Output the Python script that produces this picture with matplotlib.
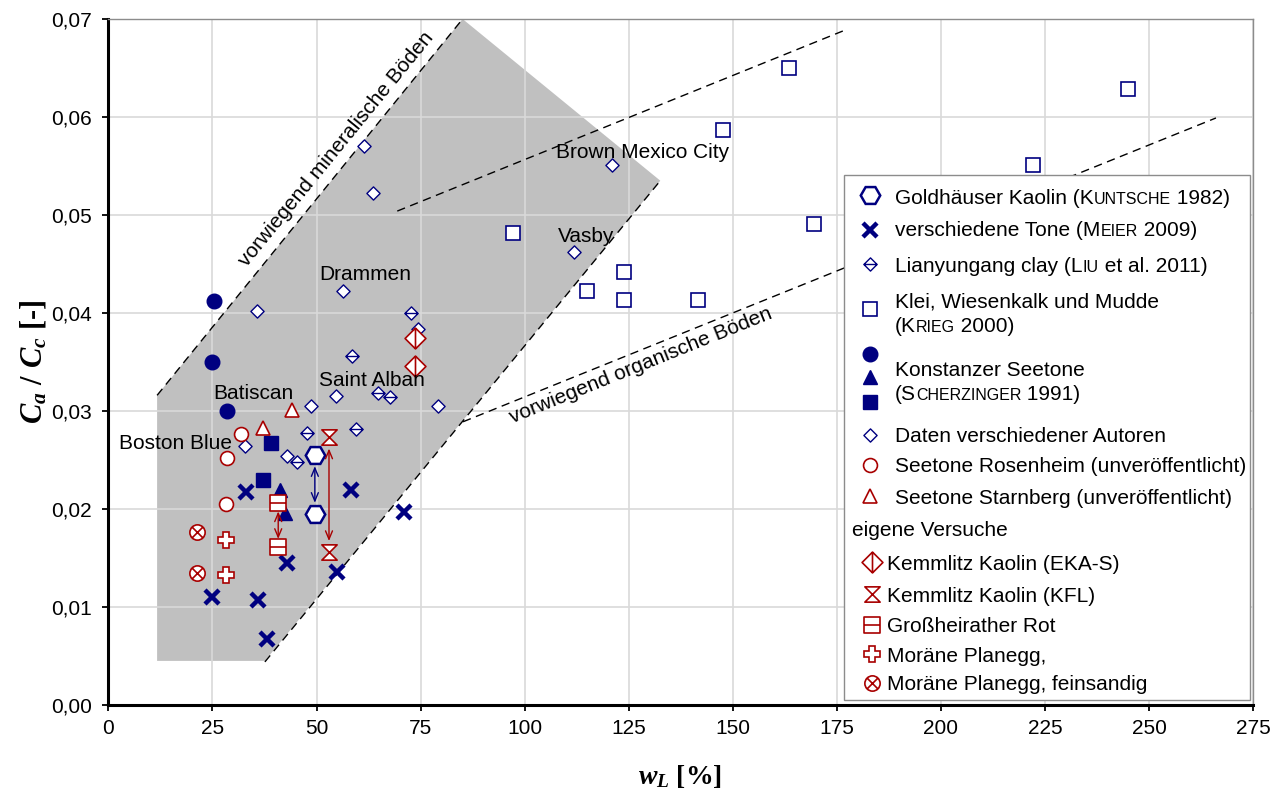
import re

import matplotlib
matplotlib.use("Agg")
import matplotlib.pyplot as plt
from matplotlib.patches import Polygon, Rectangle
from matplotlib.path import Path

plt.rcParams["font.family"] = ["Liberation Sans", "DejaVu Sans"]
plt.rcParams["mathtext.fontset"] = "custom"
plt.rcParams["mathtext.it"] = "Liberation Serif:italic:bold"
plt.rcParams["mathtext.rm"] = "Liberation Serif:bold"
plt.rcParams["mathtext.bf"] = "Liberation Serif:bold"

NAVY = "#000080"
RED = "#a80000"
GREY_AREA = "#c0c0c0"

# --- data: liquid limit w_L [%] and C_a / C_c [-] ---
goldhaeuser_x = [49.6, 49.6]
goldhaeuser_y = [0.0255, 0.0195]
meier_x = [33.0, 58.2, 43.0, 55.0, 25.0, 36.0, 38.2, 71.0]
meier_y = [0.0217, 0.0219, 0.0145, 0.0136, 0.0110, 0.0107, 0.0067, 0.0197]
liu_x = [72.6, 58.6, 64.8, 67.6, 59.6, 47.6, 45.4]
liu_y = [0.0400, 0.0356, 0.0318, 0.0314, 0.0282, 0.0278, 0.0248]
krieg_x = [97.2, 147.6, 123.9, 115.1, 123.9, 141.6, 169.5, 163.5, 244.9, 222.1]
krieg_y = [0.0482, 0.0587, 0.0442, 0.0422, 0.0413, 0.0413, 0.0491, 0.0650,
           0.0629, 0.0551]
konstanz_circle_x = [25.4, 24.9, 28.5]
konstanz_circle_y = [0.0412, 0.0350, 0.0300]
konstanz_tri_x = [41.2, 42.4]
konstanz_tri_y = [0.0219, 0.0196]
konstanz_sq_x = [39.0, 37.2]
konstanz_sq_y = [0.0267, 0.0230]
autoren_x = [35.6, 56.4, 54.6, 48.6, 79.3, 74.4, 32.8, 42.8, 61.4, 63.5,
             121.0, 111.8]
autoren_y = [0.0402, 0.0422, 0.0315, 0.0305, 0.0305, 0.0384, 0.0264, 0.0254,
             0.0570, 0.0522, 0.0551, 0.0462]
rosenheim_x = [31.8, 28.4, 28.2]
rosenheim_y = [0.0277, 0.0252, 0.0205]
starnberg_x = [44.0, 37.2]
starnberg_y = [0.0301, 0.0283]
eka_x = [73.6, 73.6]
eka_y = [0.0375, 0.0346]
kfl_x = [53.0, 53.0]
kfl_y = [0.0273, 0.0156]
gross_x = [40.8, 40.8]
gross_y = [0.0206, 0.0161]
planegg_x = [28.2, 28.2]
planegg_y = [0.0168, 0.0133]
feinsandig_x = [21.4, 21.4]
feinsandig_y = [0.0177, 0.0135]

# shaded zone and the dashed boundaries
zone_x = [11.7, 11.7, 85.1, 132.6, 37.6]
zone_y = [0.0045, 0.0316, 0.0700, 0.0535, 0.0045]
line_mineral = ([11.7, 85.1], [0.0316, 0.0700])
line_zone_right = ([37.6, 132.6], [0.0044, 0.0535])
line_upper = ([69.4, 176.6], [0.0504, 0.0688])
line_organic = ([85.2, 266.1], [0.0289, 0.0599])

site_labels = ["Brown Mexico City", "Vasby", "Drammen", "Saint Alban",
               "Batiscan", "Boston Blue"]
site_x = [107.6, 107.9, 50.6, 50.6, 25.2, 2.6]
site_y = [0.0564, 0.0478, 0.0439, 0.0331, 0.0318, 0.0267]

xticks = [0, 25, 50, 75, 100, 125, 150, 175, 200, 225, 250, 275]
yticks = [0.00, 0.01, 0.02, 0.03, 0.04, 0.05, 0.06, 0.07]
ytick_labels = ["0,00", "0,01", "0,02", "0,03", "0,04", "0,05", "0,06", "0,07"]

# {...} is set in small capitals
legend_labels = [
    "Goldhäuser Kaolin (K{UNTSCHE} 1982)",
    "verschiedene Tone (M{EIER} 2009)",
    "Lianyungang clay (L{IU} et al. 2011)",
    "Klei, Wiesenkalk und Mudde\n(K{RIEG} 2000)",
    "Konstanzer Seetone\n(S{CHERZINGER} 1991)",
    "Daten verschiedener Autoren",
    "Seetone Rosenheim (unveröffentlicht)",
    "Seetone Starnberg (unveröffentlicht)",
    "eigene Versuche",
    "Kemmlitz Kaolin (EKA-S)",
    "Kemmlitz Kaolin (KFL)",
    "Großheirather Rot",
    "Moräne Planegg,",
    "Moräne Planegg, feinsandig",
]


def outline(pts):
    return Path(pts + [pts[0]],
                [Path.MOVETO] + [Path.LINETO] * (len(pts) - 1) + [Path.CLOSEPOLY])


def stroke(a, b):
    return Path([a, b], [Path.MOVETO, Path.LINETO])


DIAMOND = [(0, 1), (1, 0), (0, -1), (-1, 0)]
m_diamond = outline(DIAMOND)
m_diamond_h = Path.make_compound_path(outline(DIAMOND), stroke((-1, 0), (1, 0)))
m_diamond_v = Path.make_compound_path(outline(DIAMOND), stroke((0, 1), (0, -1)))
m_hourglass = outline([(-1, 1), (1, 1), (-1, -1), (1, -1)])
m_square_h = Path.make_compound_path(outline([(-1, -1), (1, -1), (1, 1), (-1, 1)]),
                                     stroke((-1, 0), (1, 0)))
m_circle_x = Path.make_compound_path(Path.unit_circle(),
                                     stroke((-0.7, -0.7), (0.7, 0.7)),
                                     stroke((-0.7, 0.7), (0.7, -0.7)))

styles = {
    "gold": dict(marker="H", ms=14, mfc="white", mec=NAVY, mew=1.8),
    "meier": dict(marker="x", ms=10, mec=NAVY, mew=3.2),
    "liu": dict(marker=m_diamond_h, ms=9.5, mfc="white", mec=NAVY, mew=1.0),
    "krieg": dict(marker="s", ms=10.5, mfc="white", mec=NAVY, mew=1.2),
    "k_circle": dict(marker="o", ms=10.5, mfc=NAVY, mec=NAVY),
    "k_tri": dict(marker="^", ms=10.5, mfc=NAVY, mec=NAVY),
    "k_sq": dict(marker="s", ms=10.5, mfc=NAVY, mec=NAVY),
    "autoren": dict(marker=m_diamond, ms=9.5, mfc="white", mec=NAVY, mew=1.0),
    "rosenheim": dict(marker="o", ms=10, mfc="white", mec=RED, mew=1.2),
    "starnberg": dict(marker="^", ms=10.5, mfc="white", mec=RED, mew=1.2),
    "eka": dict(marker=m_diamond_v, ms=15, mfc="white", mec=RED, mew=1.2),
    "kfl": dict(marker=m_hourglass, ms=11, mfc="white", mec=RED, mew=1.2),
    "gross": dict(marker=m_square_h, ms=11, mfc="white", mec=RED, mew=1.2),
    "planegg": dict(marker="P", ms=12, mfc="white", mec=RED, mew=1.2),
    "feinsandig": dict(marker=m_circle_x, ms=11, mfc="white", mec=RED, mew=1.2),
}

W, H = 1281, 792
X0, X1, Y0, Y1 = 108.4, 1253, 705, 19

fig = plt.figure(figsize=(W / 100, H / 100), dpi=100)
ax = fig.add_axes([X0 / W, 1 - Y0 / H, (X1 - X0) / W, (Y0 - Y1) / H])
ax.set_xlim(0, 275)
ax.set_ylim(0, 0.07)
ax.set_xticks(xticks)
ax.set_yticks(yticks)
ax.set_yticklabels(ytick_labels)
ax.tick_params(labelsize=15, direction="out", length=4, width=1.3, pad=6)
ax.tick_params(axis="y", pad=8)
ax.set_axisbelow(True)
ax.grid(True, color="#d9d9d9", lw=1.2)
for side in ("left", "bottom"):
    ax.spines[side].set_linewidth(2.2)
for side in ("top", "right"):
    ax.spines[side].set_color("#8c8c8c")
    ax.spines[side].set_linewidth(1.0)

ax.add_patch(Polygon(list(zip(zone_x, zone_y)), closed=True,
                     facecolor=GREY_AREA, edgecolor="none", zorder=0.3))
for lx, ly in (line_mineral, line_zone_right, line_upper, line_organic):
    ax.plot(lx, ly, color="black", lw=1.0, dashes=(6, 4), zorder=2)

ax.text(54.8, 0.0567, "vorwiegend mineralische Böden", fontsize=15,
        rotation=50.8, rotation_mode="anchor", ha="center", va="center")
ax.text(127.9, 0.0346, "vorwiegend organische Böden", fontsize=15,
        rotation=22.0, rotation_mode="anchor", ha="center", va="center")
for label, sx, sy in zip(site_labels, site_x, site_y):
    ax.text(sx, sy, label, fontsize=15, ha="left", va="center", zorder=4)

series = [
    (krieg_x, krieg_y, "krieg"),
    (autoren_x, autoren_y, "autoren"),
    (liu_x, liu_y, "liu"),
    (meier_x, meier_y, "meier"),
    (konstanz_circle_x, konstanz_circle_y, "k_circle"),
    (konstanz_tri_x, konstanz_tri_y, "k_tri"),
    (konstanz_sq_x, konstanz_sq_y, "k_sq"),
    (rosenheim_x, rosenheim_y, "rosenheim"),
    (starnberg_x, starnberg_y, "starnberg"),
    (goldhaeuser_x, goldhaeuser_y, "gold"),
    (eka_x, eka_y, "eka"),
    (kfl_x, kfl_y, "kfl"),
    (gross_x, gross_y, "gross"),
    (planegg_x, planegg_y, "planegg"),
    (feinsandig_x, feinsandig_y, "feinsandig"),
]
for sx, sy, key in series:
    ax.plot(sx, sy, ls="none", zorder=3, **styles[key])

# double arrows between the paired measurements
for sx, sy, color, shrink in ((goldhaeuser_x, goldhaeuser_y, NAVY, 8),
                              (kfl_x, kfl_y, RED, 8),
                              (gross_x, gross_y, RED, 6)):
    ax.annotate("", xy=(sx[1], sy[1]), xytext=(sx[0], sy[0]), zorder=3,
                arrowprops=dict(arrowstyle="<->,head_length=0.6,head_width=0.25",
                                color=color, lw=1.0, shrinkA=shrink, shrinkB=shrink))


# --- legend, laid out by hand (small capitals need mixed font sizes) ---
def to_axes(xp, yp):
    return (xp - X0) / (X1 - X0), (Y0 - yp) / (Y0 - Y1)


renderer = fig.canvas.get_renderer()


def rich_text(xp, yp, line):
    x, y = to_axes(xp, yp)
    for part in re.split(r"(\{[^}]*\})", line):
        if not part:
            continue
        small = part.startswith("{")
        t = ax.text(x, y, part.strip("{}"), transform=ax.transAxes,
                    fontsize=11.5 if small else 15, va="baseline", zorder=8)
        bb = t.get_window_extent(renderer)
        x = ax.transAxes.inverted().transform((bb.x1, bb.y0))[0]


def legend_marker(xp, yp, key):
    x, y = to_axes(xp, yp)
    ax.plot([x], [y], transform=ax.transAxes, clip_on=False, zorder=8,
            ls="none", **styles[key])


bx0, by0 = to_axes(844, 700)
bx1, by1 = to_axes(1250, 175)
ax.add_patch(Rectangle((bx0, by0), bx1 - bx0, by1 - by0, transform=ax.transAxes,
                       facecolor="white", edgecolor="#8c8c8c", lw=1.0,
                       zorder=7, clip_on=False))

legend_rows = [
    (["gold"], [195], [197]),
    (["meier"], [230], [229]),
    (["liu"], [264], [264]),
    (["krieg"], [309], [300, 325]),
    (["k_circle", "k_tri", "k_sq"], [354, 377, 402], [368, 393]),
    (["autoren"], [435], [435]),
    (["rosenheim"], [465], [465]),
    (["starnberg"], [496], [496]),
    ([], [], [529]),
    (["eka"], [562], [562]),
    (["kfl"], [594], [594]),
    (["gross"], [625], [625]),
    (["planegg"], [654], [654]),
    (["feinsandig"], [683], [683]),
]
for i, (label, (keys, marker_ys, text_ys)) in enumerate(zip(legend_labels, legend_rows)):
    own = i >= 8
    mx = 872 if own else 870
    tx = 852 if i == 8 else (887 if own else 895)
    for key, my in zip(keys, marker_ys):
        legend_marker(mx, my, key)
    for line, ty in zip(label.split("\n"), text_ys):
        rich_text(tx, ty + 7.5, line)

fig.text(680 / W, 1 - 776 / H, r"$w_L$ [%]", fontsize=20, ha="center",
         va="center", family="Liberation Serif", weight="bold")
fig.text(33 / W, 1 - 362 / H, r"$C_a\ /\ C_c$ [-]", fontsize=22, rotation=90,
         ha="center", va="center", family="Liberation Serif", weight="bold")

fig.savefig("out.png", dpi=100)
